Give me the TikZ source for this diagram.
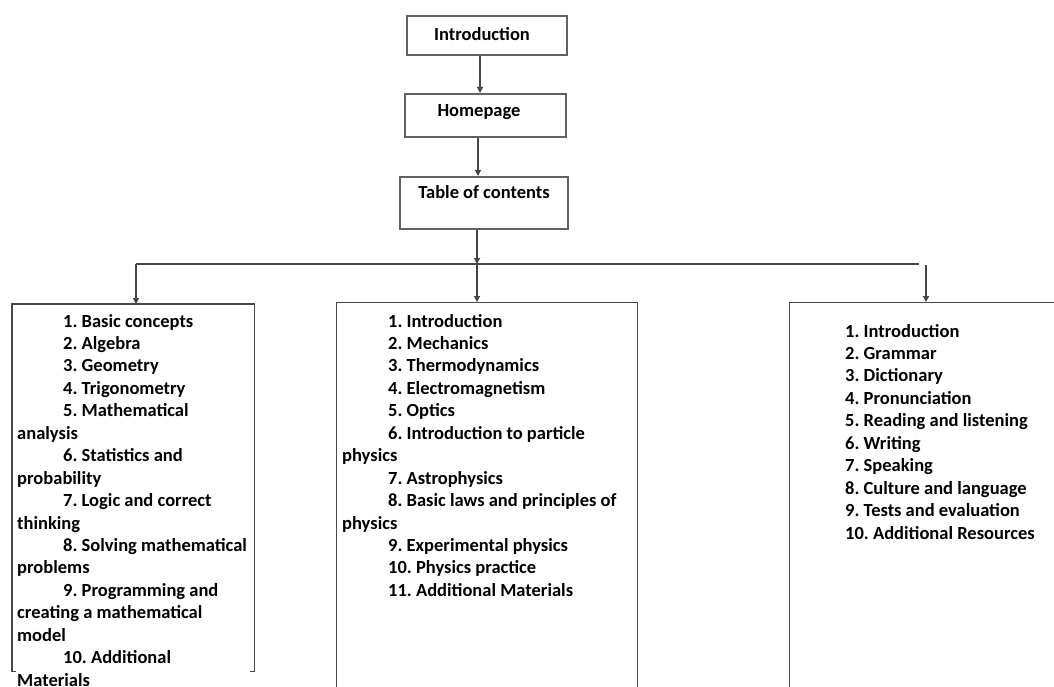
\documentclass[tikz,border=0pt]{standalone}
\usepackage{fontspec}
\setmainfont{Carlito}
\usetikzlibrary{arrows.meta}
\newcommand\myind{\hspace*{46pt}}
\frenchspacing
\begin{document}
\begin{tikzpicture}[x=1pt,y=-1pt,
  line/.style={draw=black!72, line width=1.2pt},
  arr/.style={line, -{Triangle[length=6pt,width=6pt]}},
  topbox/.style={draw=black!62, line width=1.8pt, inner sep=0pt, anchor=north west},
  listbox/.style={draw=black!72, line width=1.2pt, inner sep=0pt, anchor=north west},
  lbl/.style={font=\bfseries\fontsize{18.5}{22.45}\selectfont, inner sep=0pt, text=black},
  listtext/.style={lbl, text width=300pt, align=flush left, anchor=base west}]
\useasboundingbox[fill=white] (0,0) rectangle (1054,687);

% top boxes
\node[topbox, minimum width=160pt, minimum height=39pt] (intro) at (406,15) {};
\node[topbox, minimum width=161pt, minimum height=43pt] (home) at (404,93) {};
\node[topbox, minimum width=168pt, minimum height=52pt] (toc) at (399,176) {};
\node[lbl, anchor=base] (introT) at (482,41) {Introduction};
\node[lbl, anchor=base] (homeT) at (479,117) {Homepage};
\node[lbl, anchor=base] (tocT) at (484,199) {Table of contents};

% list boxes
\node[inner sep=0pt, minimum width=242pt, minimum height=367pt, anchor=north west] (math) at (12,304) {};
\draw[line] ([xshift=4pt]math.south west) -- (math.south west) -- (math.north west)
  -- (math.north east) -- (math.south east) -- ([xshift=-4pt]math.south east);
\node[listbox, minimum width=301pt, minimum height=420pt] (phys) at (336,302) {};
\node[listbox, minimum width=300pt, minimum height=420pt] (lang) at (789,302) {};

% connectors
\coordinate (x1) at (480,0);
\coordinate (x2) at (478,0);
\coordinate (x3) at (477,0);
\coordinate (hl) at (136,264);
\coordinate (hr) at (919,264);
\coordinate (hc) at (477,264);
\coordinate (rt) at (926,265);
\draw[arr] (intro.south -| x1) -- (home.north -| x1);
\draw[arr] (home.south -| x2) -- (toc.north -| x2);
\draw[line] (hl) -- (hr);
\draw[arr] (toc.south -| x3) -- (hc);
\draw[arr] (hl) -- (math.north -| hl);
\draw[arr] (hc) -- (phys.north -| hc);
\draw[arr] (rt) -- (lang.north -| rt);

% list texts
\node[listtext] (mathT) at (17,327) {%
\myind 1. Basic concepts\\
\myind 2. Algebra\\
\myind 3. Geometry\\
\myind 4. Trigonometry\\
\myind 5. Mathematical\\
analysis\\
\myind 6. Statistics and\\
probability\\
\myind 7. Logic and correct\\
thinking\\
\myind 8. Solving mathematical\\
problems\\
\myind 9. Programming and\\
creating a mathematical\\
model\\
\myind 10. Additional\\
Materials};
\node[listtext] (physT) at (342,327) {%
\myind 1. Introduction\\
\myind 2. Mechanics\\
\myind 3. Thermodynamics\\
\myind 4. Electromagnetism\\
\myind 5. Optics\\
\myind 6. Introduction to particle\\
physics\\
\myind 7. Astrophysics\\
\myind 8. Basic laws and principles of\\
physics\\
\myind 9. Experimental physics\\
\myind 10. Physics practice\\
\myind 11. Additional Materials};
\node[listtext] (langT) at (845,337) {%
1. Introduction\\
2. Grammar\\
3. Dictionary\\
4. Pronunciation\\
5. Reading and listening\\
6. Writing\\
7. Speaking\\
8. Culture and language\\
9. Tests and evaluation\\
10. Additional Resources};
\end{tikzpicture}
\end{document}
